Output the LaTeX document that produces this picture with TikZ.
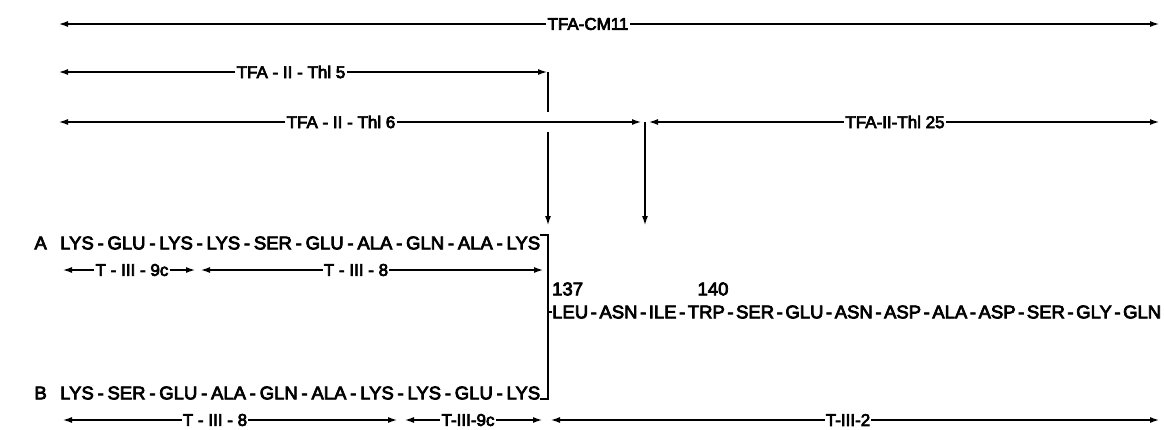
\documentclass[tikz,border=0pt]{standalone}
\usepackage{fontspec}
\setmainfont{Liberation Sans}
\newfontfamily\seqfont[FakeBold=4]{Liberation Sans}
\newcommand\tightsp{\spaceskip=3pt plus 20pt minus 2pt\relax}
\usetikzlibrary{arrows.meta,positioning}

\begin{document}
\begin{tikzpicture}[x=1pt,y=-1pt,
  span/.style={-{Latex[length=10pt,width=6pt]},line width=2pt},
  frag/.style={fill=white,inner sep=1pt,font=\seqfont\fontsize{17}{17}\selectfont},
  resid/.style={inner sep=0pt,font=\seqfont\fontsize{18.5}{18.5}\selectfont\tightsp},
  link/.style={line width=2pt},
  node distance=13pt
]
\useasboundingbox (0,0) rectangle (1165,429);

% thermolysin / CNBr fragments
\coordinate (cmL) at (58,24);
\coordinate (cmR) at (1160,24);
\node[frag] (cm) at (588,24) {TFA-CM11};
\draw[span] (cm) -- (cmL);
\draw[span] (cm) -- (cmR);

\coordinate (t5L) at (58,72);
\coordinate (t5R) at (548,72);
\coordinate (t5D) at (548,112);
\node[frag] (t5) at (291,72) {TFA - II - Thl 5};
\draw[span] (t5) -- (t5L);
\draw[span] (t5) -- (t5R);
\draw[link] (t5R) -- (t5D);

\coordinate (t6L) at (58,122);
\coordinate (t6R) at (642,122);
\node[frag] (t6) at (341,122) {TFA - II - Thl 6};
\draw[span] (t6) -- (t6L);
\draw[span] (t6) -- (t6R);

\coordinate (t25L) at (648,122);
\coordinate (t25R) at (1160,122);
\node[frag] (t25) at (895,122) {TFA-II-Thl 25};
\draw[span] (t25) -- (t25L);
\draw[span] (t25) -- (t25R);

% cleavage points
\coordinate (cut1) at (548,132);
\coordinate (cut1e) at (548,226);
\coordinate (cut2) at (645,122);
\coordinate (cut2e) at (645,226);
\draw[span] (cut1) -- (cut1e);
\draw[span] (cut2) -- (cut2e);

% sequences
\node[resid,anchor=west] (seqA) at (60,243)
  {\makebox[480pt][s]{LYS - GLU - LYS - LYS - SER - GLU - ALA - GLN - ALA - LYS}};
\node[resid,left=of seqA] (labA) {A};
\node[resid,anchor=west] (seqB) at (60,393)
  {\makebox[480pt][s]{LYS - SER - GLU - ALA - GLN - ALA - LYS - LYS - GLU - LYS}};
\node[resid,left=of seqB] (labB) {B};
\node[resid,anchor=west] (seqC) at (552,312)
  {\makebox[609pt][s]{LEU - ASN - ILE - TRP - SER - GLU - ASN - ASP - ALA - ASP - SER - GLY - GLN}};
\node[resid,anchor=west] (n137) at (552,289) {137};
\node[resid] (n140) at (713,289) {140};

\coordinate (jA) at (548,235);
\coordinate (jC) at (548,312);
\coordinate (jB) at (548,399);
\draw[link] ([yshift=8pt]seqA.east) -- (jA) -- (jB) -- ([yshift=-6pt]seqB.east);
\draw[link] (jC) -- (seqC.west);

% tryptic peptides, row A
\coordinate (a9L) at (62,270);
\coordinate (a9R) at (196,270);
\node[frag] (a9) at (132,270) {T - III - 9c};
\draw[span] (a9) -- (a9L);
\draw[span] (a9) -- (a9R);
\coordinate (a8L) at (200,270);
\coordinate (a8R) at (544,270);
\node[frag] (a8) at (356,270) {T - III - 8};
\draw[span] (a8) -- (a8L);
\draw[span] (a8) -- (a8R);

% tryptic peptides, row B
\coordinate (b8L) at (62,420);
\coordinate (b8R) at (398,420);
\node[frag] (b8) at (215,420) {T - III - 8};
\draw[span] (b8) -- (b8L);
\draw[span] (b8) -- (b8R);
\coordinate (b9L) at (404,420);
\coordinate (b9R) at (543,420);
\node[frag] (b9) at (468,420) {T-III-9c};
\draw[span] (b9) -- (b9L);
\draw[span] (b9) -- (b9R);
\coordinate (b2L) at (550,420);
\coordinate (b2R) at (1160,420);
\node[frag] (b2) at (848,420) {T-III-2};
\draw[span] (b2) -- (b2L);
\draw[span] (b2) -- (b2R);
\end{tikzpicture}
\end{document}
